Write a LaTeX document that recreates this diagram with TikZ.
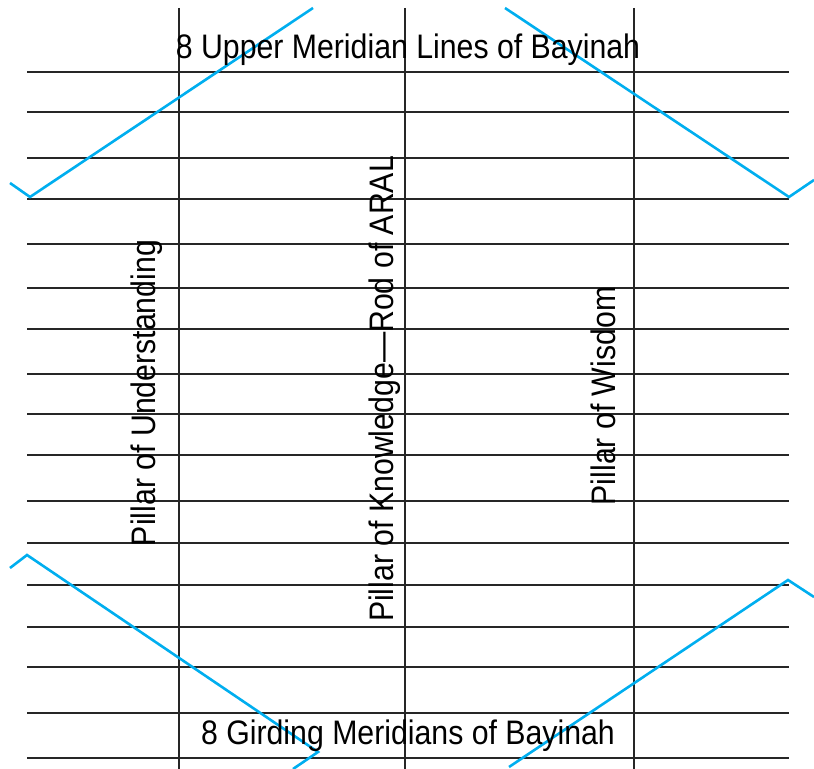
\documentclass[tikz,border=0pt]{standalone}
\usepackage{fontspec}
\setmainfont{Liberation Sans}[FakeStretch=0.89]
\usepackage{tikz}
\definecolor{zigblue}{RGB}{0,174,239}

\begin{document}
\begin{tikzpicture}[x=0.5pt, y=-0.5pt,
  rule/.style={draw=black!85, line width=0.7pt},
  zig/.style={draw=zigblue, line width=1.3pt, line join=miter},
  lbl/.style={font=\fontsize{17}{20}\selectfont, inner sep=0pt, anchor=base},
  pillar/.style={lbl, rotate=90},
]
\useasboundingbox (0,0) rectangle (814,769);

% meridian lines
\foreach \y in {72,112,158,199,244,288,329,374,414,455,501,543,585,627,667,713,758}
  \draw[rule] (27,\y) -- (789,\y);

% pillars
\draw[rule] (179,8) -- (179,769);
\draw[rule] (405,8) -- (405,769);
\draw[rule] (634,8) -- (634,769);

% blue zigzags
\draw[zig] (10,183) -- (30,197) -- (313,8);
\draw[zig] (505,8) -- (789,197) -- (814,180);
\draw[zig] (10,568) -- (27,555) -- (318,752) -- (293,769);
\draw[zig] (509,767) -- (788,580) -- (814,597);

\node[lbl] (upper) at (408,59) {8 Upper Meridian Lines of Bayinah};
\node[lbl] (girding) at (408,744) {8 Girding Meridians of Bayinah};

\node[pillar] (underst) at (155,393) {Pillar of Understanding};
\node[pillar] (knowl) at (393,389) {Pillar of Knowledge—Rod of ARAL};
\node[pillar] (wisdom) at (615,396) {Pillar of Wisdom};
\end{tikzpicture}
\end{document}
